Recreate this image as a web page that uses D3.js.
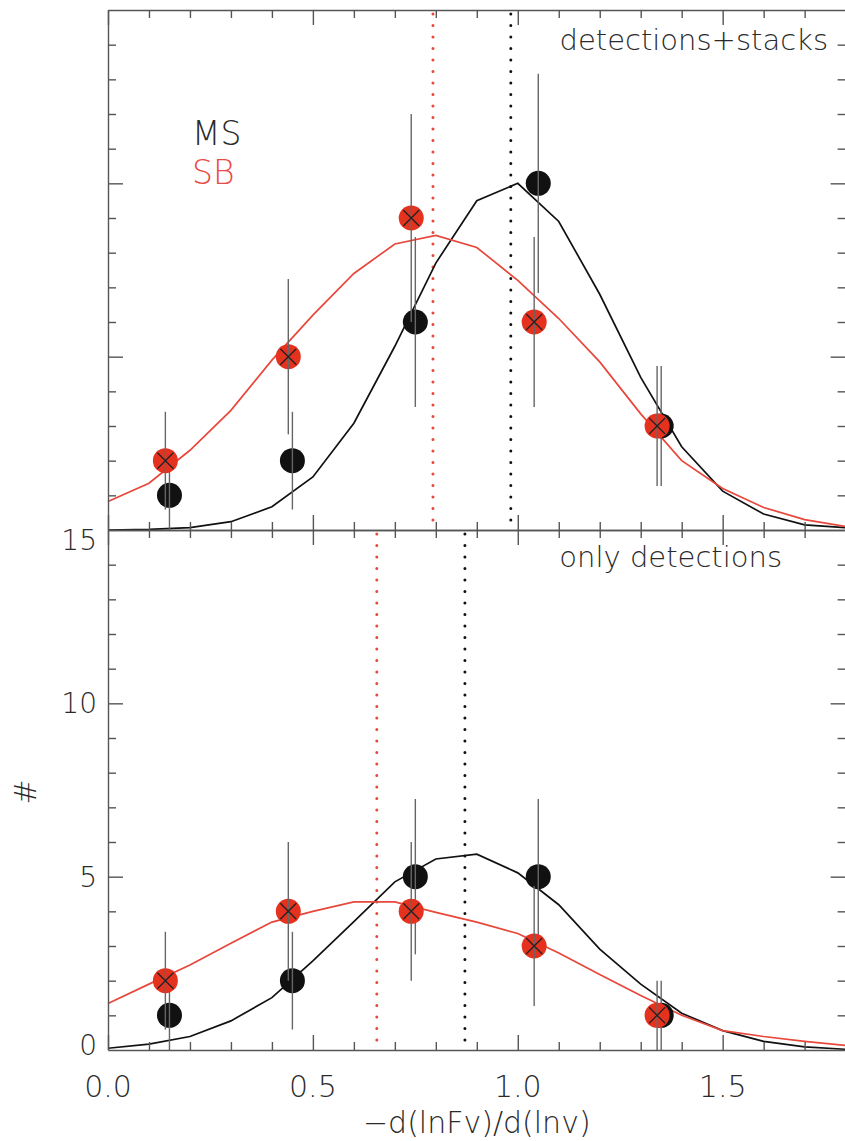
<!DOCTYPE html>
<html>
<head>
<meta charset="utf-8">
<script src="https://cdn.jsdelivr.net/npm/d3@7"></script>
<style>
  body { margin: 0; background: #fff; }
  svg { display: block; }
  text { font-family: "DejaVu Sans", sans-serif; font-weight: 300; fill: #2a2a2a; }
  .axis path, .axis line { stroke: #555; stroke-width: 1.4; }
</style>
</head>
<body>
<script>
const W = 845;
const H = 1141;

// model curves, sampled every 0.1
const fitX = [0.0, 0.1, 0.2, 0.3, 0.4, 0.5, 0.6, 0.7, 0.8, 0.9, 1.0, 1.1, 1.2, 1.3, 1.4, 1.5, 1.6, 1.7, 1.8];
const topMsFit = [0.0, 0.02, 0.07, 0.24, 0.67, 1.53, 3.08, 5.3, 7.7, 9.5, 10.0, 8.9, 6.8, 4.4, 2.4, 1.12, 0.46, 0.15, 0.07];
const topSbFit = [0.82, 1.35, 2.3, 3.45, 4.9, 6.2, 7.4, 8.25, 8.5, 8.15, 7.2, 6.1, 4.85, 3.35, 2.0, 1.2, 0.65, 0.3, 0.1];
const botMsFit = [0.05, 0.17, 0.39, 0.84, 1.51, 2.57, 3.7, 4.85, 5.51, 5.65, 5.11, 4.19, 2.91, 1.9, 1.06, 0.56, 0.25, 0.09, 0.02];
const botSbFit = [1.34, 1.9, 2.45, 3.08, 3.69, 4.0, 4.27, 4.27, 3.97, 3.69, 3.36, 2.8, 2.18, 1.57, 1.0, 0.56, 0.39, 0.25, 0.13];

// binned counts and errors
const msX = [0.15, 0.45, 0.75, 1.05, 1.35];
const sbX = [0.14, 0.44, 0.74, 1.04, 1.34];
const topMsN = [1, 2, 6, 10, 3];
const topMsErr = [1.0, 1.41, 2.45, 3.16, 1.73];
const topSbN = [2, 5, 9, 6, 3];
const topSbErr = [1.41, 2.24, 3.0, 2.45, 1.73];
const botMsN = [1, 2, 5, 5, 1];
const botMsErr = [1.0, 1.41, 2.24, 2.24, 1.0];
const botSbN = [2, 4, 4, 3, 1];
const botSbErr = [1.41, 2.0, 2.0, 1.73, 1.0];

// medians (dotted lines)
const topMedian = { ms: 0.983, sb: 0.793 };
const botMedian = { ms: 0.871, sb: 0.656 };

// ticks
const xMajor = [0, 0.5, 1.0, 1.5];
const xLabels = ['0.0', '0.5', '1.0', '1.5'];
const xMinor = [0.1, 0.2, 0.3, 0.4, 0.6, 0.7, 0.8, 0.9, 1.1, 1.2, 1.3, 1.4, 1.6, 1.7];
const yMajor = [5, 10];
const yLabelVals = [0, 5, 10, 15];
const yLabels = ['0', '5', '10', '15'];
const yMinor = [1, 2, 3, 4, 6, 7, 8, 9, 11, 12, 13, 14];

const black = '#111';
const red = '#e5321f';
const redLine = '#e8473b';
const barGrey = '#666';

const svg = d3.select('body').append('svg').attr('width', W).attr('height', H);

const x = d3.scaleLinear().domain([0, 1.8]).range([108, 845.6]);
const yTop = d3.scaleLinear().domain([0, 15]).range([530, 10]);
const yBot = d3.scaleLinear().domain([0, 15]).range([1050, 530]);

function frame(y) {
  const [y0, y1] = y.range();
  const [x0, x1] = x.range();
  const g = svg.append('g');
  const axes = [
    [d3.axisBottom, x, `translate(0,${y0})`, xMajor, xMinor],
    [d3.axisTop, x, `translate(0,${y1})`, xMajor, xMinor],
    [d3.axisLeft, y, `translate(${x0},0)`, yMajor, yMinor],
    [d3.axisRight, y, `translate(${x1},0)`, yMajor, yMinor]
  ];
  axes.forEach(([make, s, tr, major, minor]) => {
    g.append('g').attr('class', 'axis').attr('transform', tr)
      .call(make(s).tickValues(major).tickSize(-15).tickSizeOuter(0).tickFormat(''));
    g.append('g').attr('class', 'axis').attr('transform', tr)
      .call(make(s).tickValues(minor).tickSize(-8).tickSizeOuter(0).tickFormat(''))
      .select('.domain').remove();
  });
  return g;
}

function panel(y, msFit, sbFit, msN, msErr, sbN, sbErr, med) {
  const g = svg.append('g');
  const line = d3.line().x(d => x(d[0])).y(d => y(d[1]));

  // median lines
  [[med.sb, redLine], [med.ms, black]].forEach(([m, c]) => {
    g.append('line')
      .attr('x1', x(m)).attr('x2', x(m))
      .attr('y1', y.range()[1] + 4).attr('y2', y.range()[0] - 2)
      .attr('stroke', c).attr('stroke-width', 3)
      .attr('stroke-linecap', 'round')
      .attr('stroke-dasharray', '0.1 11.4');
  });

  g.append('path').datum(d3.zip(fitX, msFit))
    .attr('d', line).attr('fill', 'none').attr('stroke', black).attr('stroke-width', 1.7);
  g.append('path').datum(d3.zip(fitX, sbFit))
    .attr('d', line).attr('fill', 'none').attr('stroke', redLine).attr('stroke-width', 1.7);

  // MS points (black)
  const ms = d3.zip(msX, msN, msErr);
  g.selectAll('.ms').data(ms).enter().append('circle')
    .attr('cx', d => x(d[0])).attr('cy', d => y(d[1])).attr('r', 12.5).attr('fill', black);
  g.selectAll('.mserr').data(ms).enter().append('line')
    .attr('x1', d => x(d[0])).attr('x2', d => x(d[0]))
    .attr('y1', d => y(d[1] - d[2])).attr('y2', d => y(d[1] + d[2]))
    .attr('stroke', barGrey).attr('stroke-width', 1.4);

  // SB points (red with cross)
  const sb = d3.zip(sbX, sbN, sbErr);
  g.selectAll('.sb').data(sb).enter().append('circle')
    .attr('cx', d => x(d[0])).attr('cy', d => y(d[1])).attr('r', 12.5).attr('fill', red);
  g.selectAll('.sberr').data(sb).enter().append('line')
    .attr('x1', d => x(d[0])).attr('x2', d => x(d[0]))
    .attr('y1', d => y(d[1] - d[2])).attr('y2', d => y(d[1] + d[2]))
    .attr('stroke', barGrey).attr('stroke-width', 1.4);
  g.selectAll('.cross').data(sb).enter().append('path')
    .attr('d', d => {
      const cx = x(d[0]), cy = y(d[1]), a = 8;
      return `M${cx - a},${cy - a}L${cx + a},${cy + a}M${cx - a},${cy + a}L${cx + a},${cy - a}`;
    })
    .attr('stroke', '#222').attr('stroke-width', 1.3);

  frame(y);
}

panel(yTop, topMsFit, topSbFit, topMsN, topMsErr, topSbN, topSbErr, topMedian);
panel(yBot, botMsFit, botSbFit, botMsN, botMsErr, botSbN, botSbErr, botMedian);

// tick labels (bottom panel only)
svg.append('g').selectAll('text').data(d3.zip(yLabelVals, yLabels)).enter().append('text')
  .attr('x', 97)
  .attr('y', d => yBot(d[0]) + (d[0] === 15 ? 20 : (d[0] === 0 ? 5 : 10)))
  .attr('text-anchor', 'end')
  .attr('font-size', 28)
  .text(d => d[1]);

svg.append('g').selectAll('text').data(d3.zip(xMajor, xLabels)).enter().append('text')
  .attr('x', d => x(d[0]))
  .attr('y', 1097)
  .attr('text-anchor', 'middle')
  .attr('font-size', 30)
  .text(d => d[1]);

svg.append('text')
  .attr('x', (x.range()[0] + x.range()[1]) / 2)
  .attr('y', 1133)
  .attr('text-anchor', 'middle')
  .attr('font-size', 30)
  .text('\u2212d(lnFv)/d(lnv)');

svg.append('text')
  .attr('transform', 'translate(36,792) rotate(-90)')
  .attr('text-anchor', 'middle')
  .attr('font-size', 30)
  .text('#');

// panel titles
svg.append('text')
  .attr('x', 828).attr('y', 50)
  .attr('text-anchor', 'end')
  .attr('font-size', 29)
  .text('detections+stacks');

svg.append('text')
  .attr('x', 782).attr('y', 567)
  .attr('text-anchor', 'end')
  .attr('font-size', 29)
  .text('only detections');

// legend
svg.append('text').attr('x', 192).attr('y', 145).attr('font-size', 33).text('MS');
svg.append('text').attr('x', 192).attr('y', 184).attr('font-size', 33)
  .style('fill', '#ea4a45').text('SB');
</script>
</body>
</html>
